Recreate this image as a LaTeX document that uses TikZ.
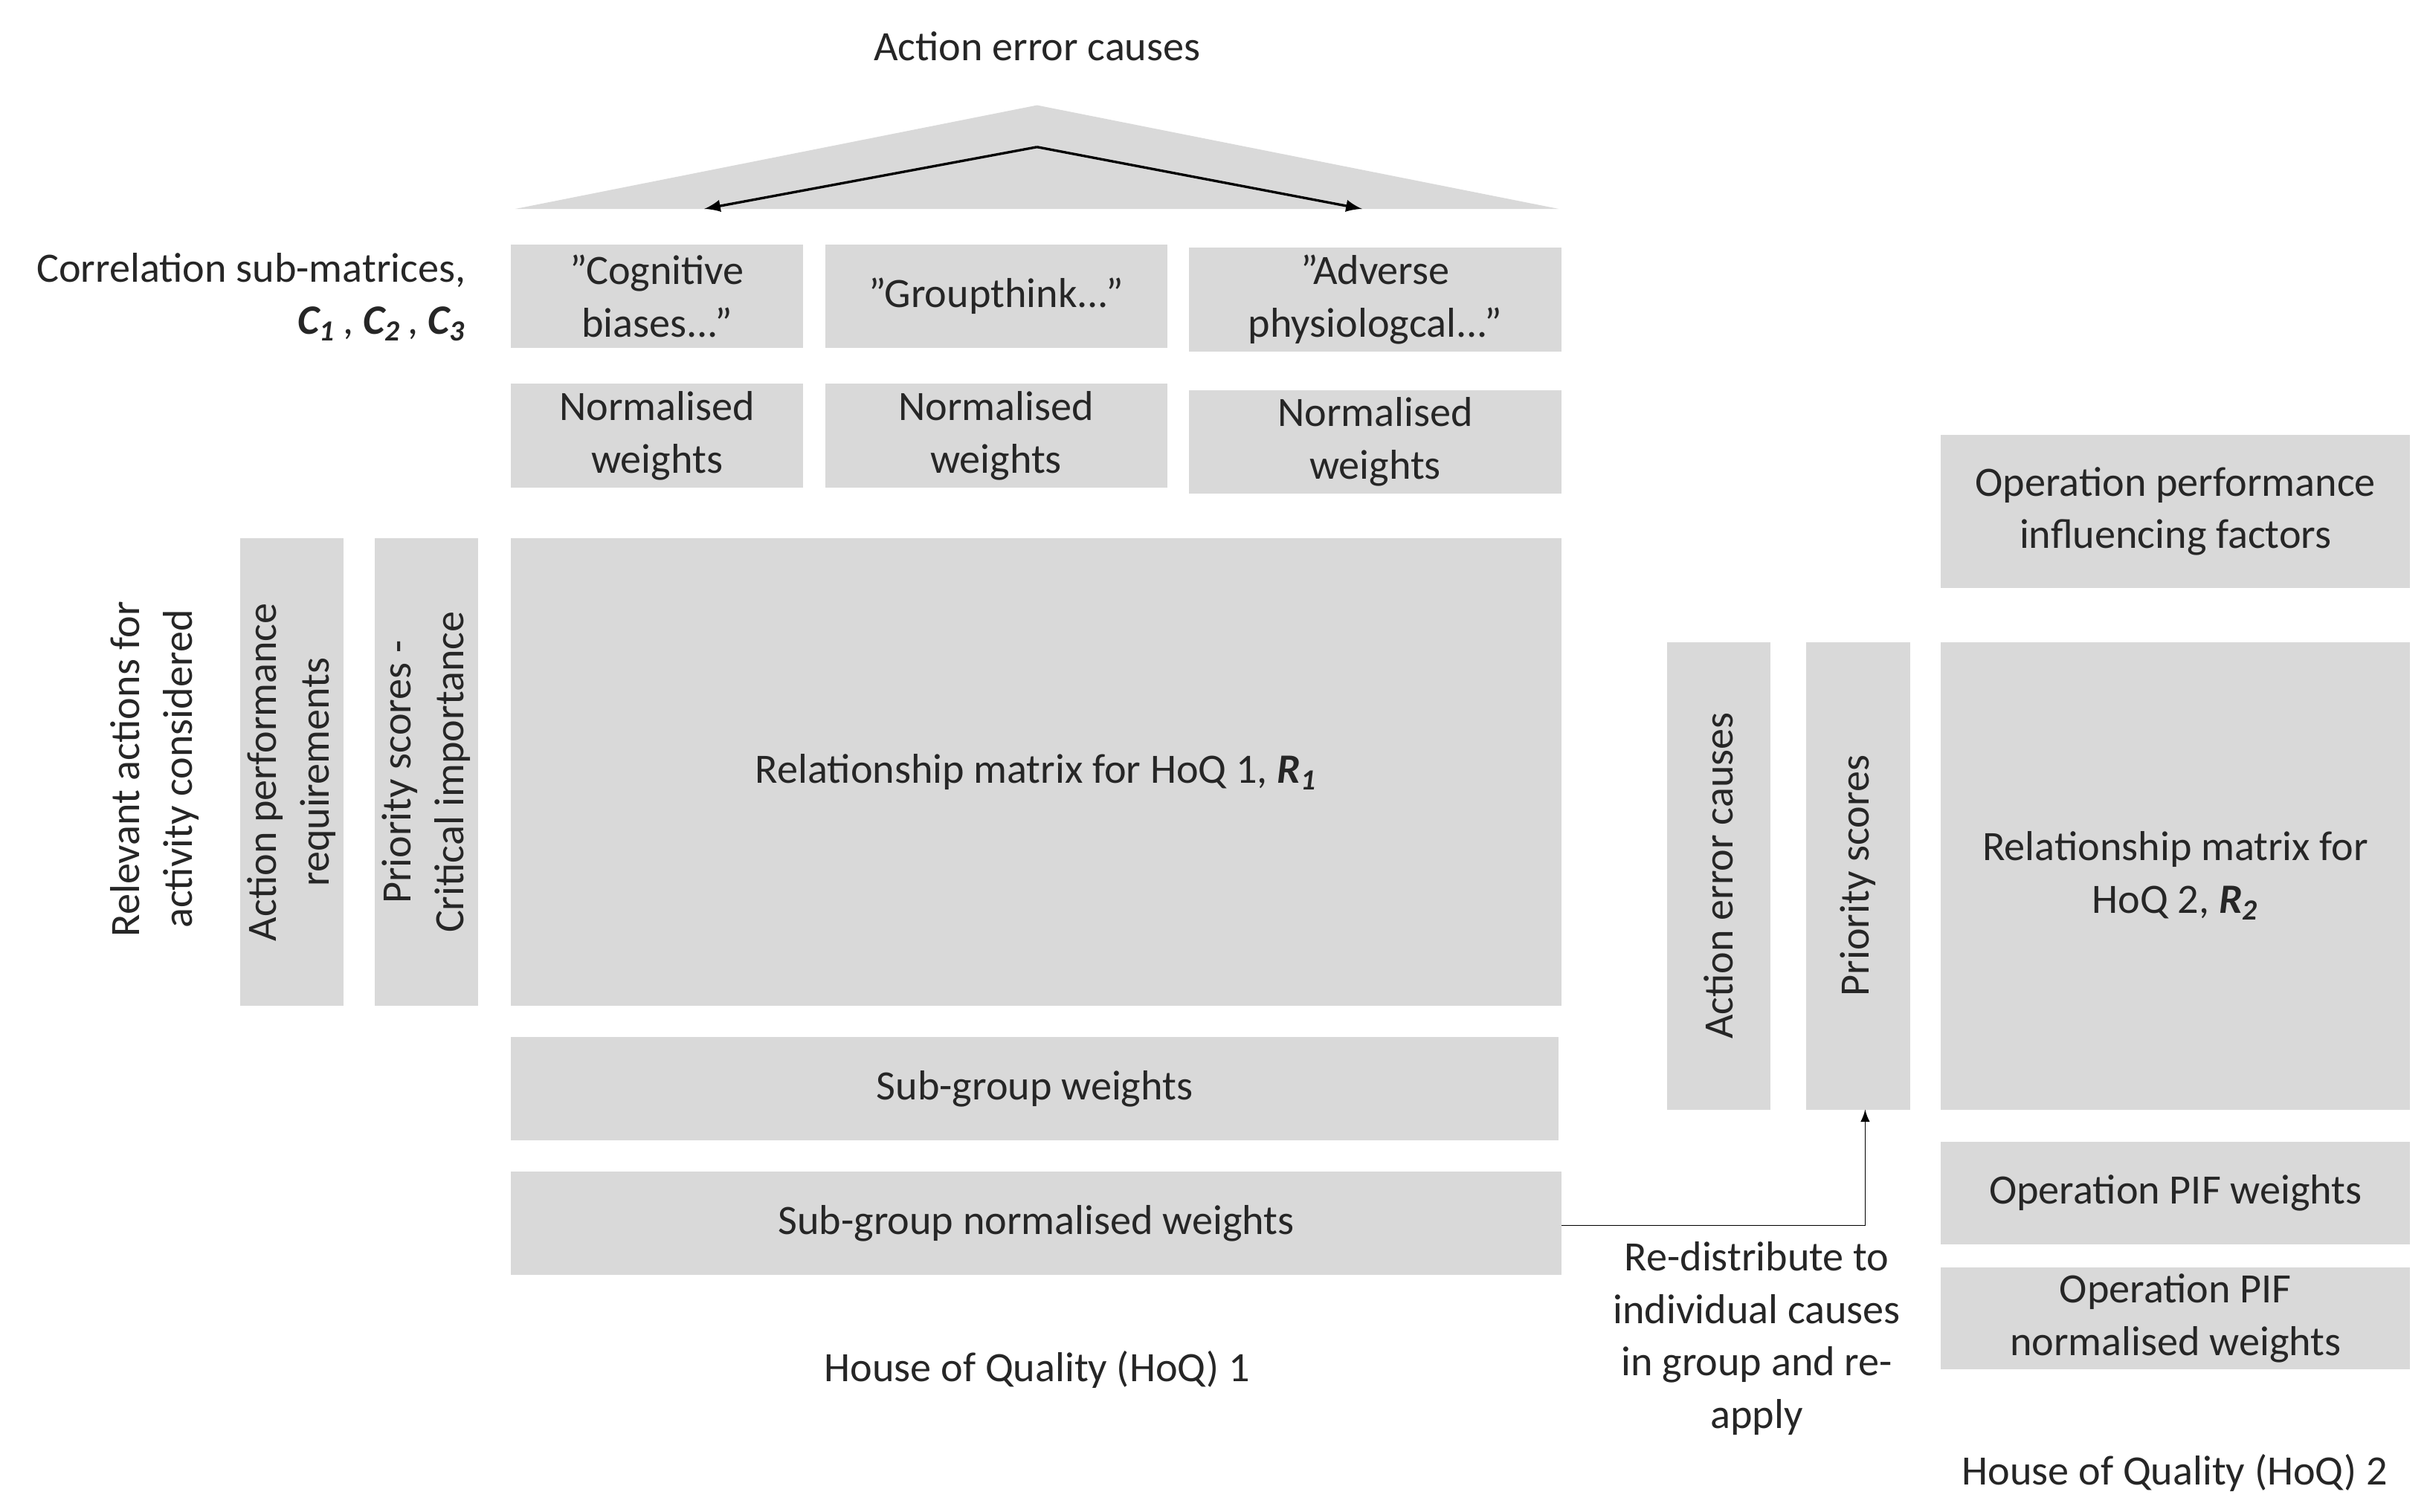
\documentclass[tikz,border=0pt]{standalone}
\usepackage{fontspec}
\setmainfont{Carlito}
\newcommand{\bmC}[2]{\textbf{\textit{#1\textsubscript{#2}}}}
\begin{document}
\begin{tikzpicture}[x=0.5pt,y=-0.5pt,
 box/.style={fill=gray!30,draw=none},
 lab/.style={font=\fontsize{13.5}{17}\selectfont,align=center,text=black!85},
 arr/.style={-latex,thick,black}]
\useasboundingbox (0,0) rectangle (1568,977);
\def\bx#1#2#3#4#5#6{\fill[box] (#2,#3) rectangle (#4,#5); \node[lab] (#1) at ({(#2+#4)/2},{(#3+#5)/2}) {#6};}
\def\rbx#1#2#3#4#5#6{\fill[box] (#2,#3) rectangle (#4,#5); \node[lab,rotate=90] (#1) at ({(#2+#4)/2},{(#3+#5)/2}) {#6};}
\fill[box] (333,135) -- (670,68) -- (1007,135) -- cycle;
\coordinate (apex) at (670,95);
\coordinate (l) at (455,135);
\coordinate (r) at (880,135);
\draw[arr] (apex) -- (l);
\draw[arr] (apex) -- (r);
\node[lab] (aec) at (670,30) {Action error causes};
\node[lab,anchor=east,align=right] (corr) at (308,192) {Correlation sub-matrices,\\ \bmC{C}{1}\,, \bmC{C}{2}\,, \bmC{C}{3}};
\bx{c1}{330}{158}{519}{225}{''Cognitive\\biases...''}
\bx{c2}{533}{158}{754}{225}{''Groupthink...''}
\bx{c3}{768}{160}{1009}{227}{''Adverse\\physiologcal...''}
\bx{n1}{330}{248}{519}{315}{Normalised\\weights}
\bx{n2}{533}{248}{754}{315}{Normalised\\weights}
\bx{n3}{768}{252}{1009}{319}{Normalised\\weights}
\node[lab,rotate=90] (rel) at (100,497) {Relevant actions for\\activity considered};
\rbx{apr}{155}{348}{222}{650}{Action performance\\requirements}
\rbx{ps}{242}{348}{309}{650}{Priority scores -\\Critical importance}
\bx{r1}{330}{348}{1009}{650}{Relationship matrix for HoQ 1, \bmC{R}{1}}
\bx{sw}{330}{670}{1007}{737}{Sub-group weights}
\bx{snw}{330}{757}{1009}{824}{Sub-group normalised weights}
\node[lab] (h1) at (670,885) {House of Quality (HoQ) 1};
\rbx{aec2}{1077}{415}{1144}{717}{Action error causes}
\rbx{ps2}{1167}{415}{1234}{717}{Priority scores}
\bx{opif}{1254}{281}{1557}{380}{Operation performance\\influencing factors}
\bx{r2}{1254}{415}{1557}{717}{Relationship matrix for\\HoQ 2, \bmC{R}{2}}
\bx{opw}{1254}{738}{1557}{804}{Operation PIF weights}
\bx{opn}{1254}{819}{1557}{885}{Operation PIF\\normalised weights}
\node[lab] (h2) at (1405,952) {House of Quality (HoQ) 2};
\node[lab] (redis) at (1135,865) {Re-distribute to\\individual causes\\in group and re-\\apply};
\coordinate (p1) at (1009,792);
\coordinate (p2) at (1205,717);
\draw[arr,thin] (p1) -| (p2);
\end{tikzpicture}
\end{document}
